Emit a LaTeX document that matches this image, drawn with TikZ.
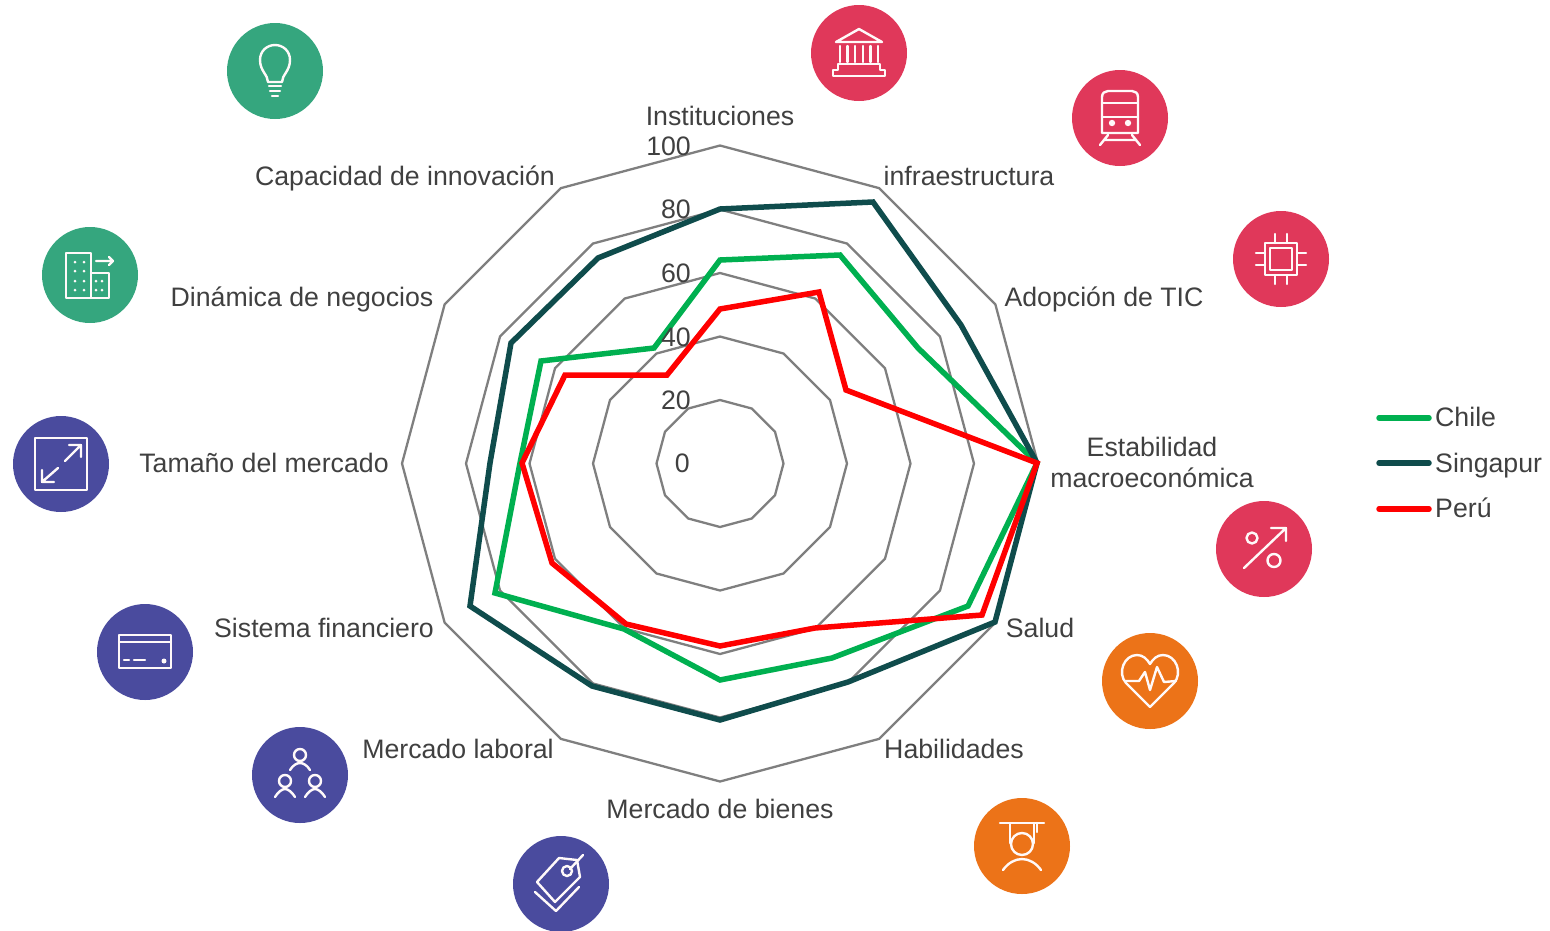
\documentclass[tikz,border=0pt]{standalone}
\usepackage{fontspec}
\setmainfont{Liberation Sans}
\definecolor{txt}{HTML}{404040}
\definecolor{gridc}{HTML}{7F7F7F}
\definecolor{chilec}{HTML}{00B050}
\definecolor{singc}{HTML}{0F4C4C}
\definecolor{peruc}{HTML}{FF0000}
\definecolor{icgreen}{HTML}{35A67E}
\definecolor{icred}{HTML}{E0385A}
\definecolor{icorange}{HTML}{EC7318}
\definecolor{icpurple}{HTML}{4A4B9E}
\tikzset{
  lab/.style={anchor=base,inner sep=0pt,text=txt,font=\fontsize{26.7}{31}\selectfont},
  tick/.style={lab,anchor=base east},
  legt/.style={lab,anchor=base west},
  gridline/.style={draw=gridc,line width=2.3pt,line join=miter},
  serie/.style={line width=5.5pt,line join=miter,miter limit=4},
  keyline/.style={line width=5.5pt,line cap=round},
  disc/.style={fill=#1,draw=none},
  ic/.style={draw=white!90!pink,line width=2.4pt,line cap=round,line join=round,fill=none},
  icf/.style={fill=white!90!pink,draw=none}
}
\begin{document}
\begin{tikzpicture}[x=1pt,y=-1pt]
\useasboundingbox (0,0) rectangle (1550,930);
% grid
\foreach \r in {63.5,127,190.5,254,318}{
  \draw[gridline] plot[samples at={0,30,...,330}] ({720+\r*cos(\x)},{463.5+\r*sin(\x)}) -- cycle;
}
% series
\draw[serie,draw=chilec] (720,260) -- (840,255) -- (918,348) -- (1037,463) -- (968,606) -- (832,658) -- (720,680) -- (624,629) -- (495,593) -- (520,463) -- (541,361) -- (654,348) -- cycle;
\draw[serie,draw=singc] (720,209) -- (873,202) -- (961,325) -- (1037,463) -- (995,622) -- (848,682) -- (720,720) -- (592,686) -- (470,606) -- (490,463) -- (511,343) -- (598,258) -- cycle;
\draw[serie,draw=peruc] (720,309) -- (819,292) -- (846,390) -- (1037,463) -- (982,615) -- (815,628) -- (720,646) -- (626,624) -- (552,563) -- (522,463) -- (565,375) -- (667,375) -- cycle;
% labels
\node[lab] (l1) at (720,125) {Instituciones};
\node[lab] (l2) at (969,185) {infraestructura};
\node[lab] (l3) at (1104,306) {Adopción de TIC};
\node[lab] (l4a) at (1152,456) {Estabilidad};
\node[lab] (l4b) at (1152,487) {macroeconómica};
\node[lab] (l5) at (1040,637) {Salud};
\node[lab] (l6) at (954,758) {Habilidades};
\node[lab] (l7) at (720,818) {Mercado de bienes};
\node[lab] (l8) at (458,758) {Mercado laboral};
\node[lab] (l9) at (324,637) {Sistema financiero};
\node[lab] (l10) at (264,472) {Tamaño del mercado};
\node[lab] (l11) at (302,306) {Dinámica de negocios};
\node[lab] (l12) at (405,185) {Capacidad de innovación};
% ticks
\node[tick] (t100) at (691,155) {100};
\node[tick] (t80) at (691,218) {80};
\node[tick] (t60) at (691,282) {60};
\node[tick] (t40) at (691,346) {40};
\node[tick] (t20) at (691,409) {20};
\node[tick] (t0) at (690,472) {0};
% legend
\draw[keyline,draw=chilec] (1379,418) -- (1429,418);
\draw[keyline,draw=singc] (1379,463) -- (1429,463);
\draw[keyline,draw=peruc] (1379,509) -- (1429,509);
\node[legt] (lc) at (1435,426) {Chile};
\node[legt] (ls) at (1435,472) {Singapur};
\node[legt] (lp) at (1435,517) {Perú};
% bulb
\begin{scope}[shift={(275,71)}]
\fill[disc=icgreen] (0,0) circle (48);
\draw[ic] (-7,11) .. controls (-7,4) and (-15,0) .. (-15,-11) .. controls (-15,-20) and (-8,-26) .. (0,-26) .. controls (8,-26) and (15,-20) .. (15,-11) .. controls (15,0) and (7,4) .. (7,11) -- cycle;
\draw[ic] (-6,15) -- (6,15) (-5,20) -- (5,20) (-3,25) -- (3,25);
\end{scope}
% bank
\begin{scope}[shift={(859,53)}]
\fill[disc=icred] (0,0) circle (48);
\draw[ic] (0,-24) -- (23,-11) -- (-23,-11) -- cycle;
\draw[ic] (-19,-7) -- (-19,9) (-11.5,-7) -- (-11.5,9) (-4,-7) -- (-4,9) (4,-7) -- (4,9) (11.5,-7) -- (11.5,9) (19,-7) -- (19,9);
\draw[ic] (-21,17) -- (-21,11) -- (21,11) -- (21,17) -- (26,17) -- (26,23) -- (-26,23) -- (-26,17) -- cycle;
\end{scope}
% train
\begin{scope}[shift={(1120,118)}]
\fill[disc=icred] (0,0) circle (48);
\draw[ic] (-18,15) -- (-18,-21) .. controls (-18,-25) and (-15,-27) .. (-12,-27) -- (12,-27) .. controls (15,-27) and (18,-25) .. (18,-21) -- (18,15) -- cycle;
\draw[ic] (-18,-15) -- (18,-15) (-18,-1) -- (18,-1);
\fill[icf] (-8,5) circle (3.2) (8,5) circle (3.2);
\draw[ic] (-12,17) -- (-20,27) (12,17) -- (20,27) (-15,22) -- (15,22);
\end{scope}
% chip
\begin{scope}[shift={(1281,259)}]
\fill[disc=icred] (0,0) circle (48);
\draw[ic] (-16,-16) rectangle (16,16);
\draw[ic] (-11,-11) rectangle (11,11);
\draw[ic] (-6,-25) -- (-6,-16) (6,-25) -- (6,-16) (-6,25) -- (-6,16) (6,25) -- (6,16);
\draw[ic] (-25,-6) -- (-16,-6) (-25,6) -- (-16,6) (25,-6) -- (16,-6) (25,6) -- (16,6);
\end{scope}
% percent
\begin{scope}[shift={(1264,549)}]
\fill[disc=icred] (0,0) circle (48);
\draw[ic] (-20,19) -- (22,-21) (7,-21) -- (22,-21) -- (22,-8);
\draw[ic] (-12,-11) circle (5.5) (10,11.5) circle (6.5);
\end{scope}
% heart
\begin{scope}[shift={(1150,681)}]
\fill[disc=icorange] (0,0) circle (48);
\draw[ic] (0,26) -- (-24,2) .. controls (-33,-8) and (-26,-26) .. (-13,-26) .. controls (-7,-26) and (-3,-22) .. (0,-17) .. controls (3,-22) and (7,-26) .. (13,-26) .. controls (26,-26) and (33,-8) .. (24,2) -- cycle;
\draw[ic] (-24,0) -- (-11,0) -- (-5,-9) -- (0,9) -- (7,-14) -- (14,1) -- (26,0);
\end{scope}
% graduate
\begin{scope}[shift={(1022,846)}]
\fill[disc=icorange] (0,0) circle (48);
\draw[ic] (-22,-23) -- (22,-23) (15,-23) -- (15,-14) (-12,-23) -- (-12,-3) (12,-23) -- (12,-3);
\draw[ic] (0,-2) circle (11);
\draw[ic] (-19,24) .. controls (-14,17) and (-7,13) .. (0,13) .. controls (7,13) and (14,17) .. (19,24);
\end{scope}
% tag
\begin{scope}[shift={(561,884)}]
\fill[disc=icpurple] (0,0) circle (48);
\draw[ic] (-2,-26) -- (16,-24) -- (19,-7) -- (-6,18) -- (-24,-2) -- cycle;
\draw[ic] (-26,8) -- (-5,27) -- (18,3);
\draw[ic] (6,-13) circle (5);
\draw[ic] (9,-15) -- (22,-29);
\end{scope}
% people
\begin{scope}[shift={(300,775)}]
\fill[disc=icpurple] (0,0) circle (48);
\draw[ic] (0,-20) circle (6) (-15,6) circle (6) (15,6) circle (6);
\draw[ic] (-10,-5) .. controls (-7,-10) and (-3,-12) .. (0,-12) .. controls (3,-12) and (7,-10) .. (10,-5);
\draw[ic] (-25,22) .. controls (-22,17) and (-18,14) .. (-15,14) .. controls (-12,14) and (-8,17) .. (-5,22);
\draw[ic] (5,22) .. controls (8,17) and (12,14) .. (15,14) .. controls (18,14) and (22,17) .. (25,22);
\end{scope}
% card
\begin{scope}[shift={(145,652)}]
\fill[disc=icpurple] (0,0) circle (48);
\draw[ic] (-26,-17) rectangle (26,16);
\draw[ic] (-26,-10) -- (26,-10);
\draw[ic] (-21,8) -- (-16,8) (-11,8) -- (0,8);
\fill[icf] (19,9) circle (2.5);
\end{scope}
% expand
\begin{scope}[shift={(61,464)}]
\fill[disc=icpurple] (0,0) circle (48);
\draw[ic] (-26,-26) rectangle (26,26);
\draw[ic] (4,-3) -- (20,-19) (8,-19) -- (20,-19) -- (20,-7);
\draw[ic] (-3,4) -- (-19,18) (-19,6) -- (-19,18) -- (-7,18);
\end{scope}
% building
\begin{scope}[shift={(90,275)}]
\fill[disc=icgreen] (0,0) circle (48);
\draw[ic] (-24,-22) rectangle (1,23);
\draw[ic] (1,-2) -- (19,-2) -- (19,23) -- (1,23);
\draw[ic] (6,-14) -- (23,-14) (19,-18) -- (23,-14) -- (19,-10);
\foreach \px in {-15,-6}{\foreach \py in {-13,-4,6,15}{\fill[icf] (\px,\py) circle (1.5);}}
\foreach \px in {6,12}{\foreach \py in {6,15}{\fill[icf] (\px,\py) circle (1.5);}}
\end{scope}
\end{tikzpicture}
\end{document}
